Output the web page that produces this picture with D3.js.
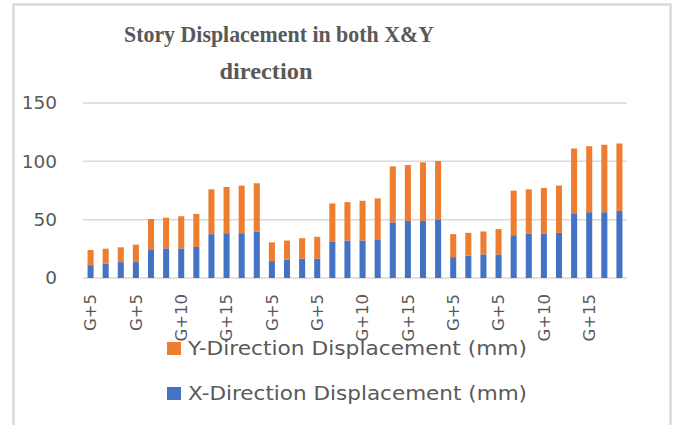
<!DOCTYPE html>
<html>
<head>
<meta charset="utf-8">
<script src="https://cdn.jsdelivr.net/npm/d3@7"></script>
<style>
  body { margin: 0; background: #fff; }
</style>
</head>
<body>
<div id="chart"></div>
<script>
// building per bar (4 bars per building, three sets)
const buildings = ["G+5", "G+10", "G+15"];
const categories = [];
for (let s = 0; s < 3; s++) buildings.forEach(b => { for (let k = 0; k < 4; k++) categories.push(b); });

const xDisp = [11.0, 12.4, 13.6, 13.6, 24.0, 25.4, 25.4, 26.6, 37.6, 38.4, 38.4, 39.6,
               14.5, 15.6, 16.5, 16.5, 30.9, 32.1, 32.1, 33.2, 47.7, 48.8, 48.8, 49.7,
               17.9, 19.1, 20.2, 20.2, 36.7, 37.9, 37.9, 38.7, 55.5, 56.4, 56.4, 57.5];
const yDisp = [13.0, 12.7, 12.7, 15.0, 26.6, 26.3, 27.5, 28.3, 38.4, 39.6, 40.8, 41.6,
               16.1, 16.5, 17.6, 18.8, 33.0, 32.9, 34.1, 35.0, 48.0, 48.0, 50.3, 50.6,
               19.7, 19.6, 19.7, 21.7, 38.2, 38.1, 39.3, 40.5, 55.5, 56.6, 57.8, 57.8];
const yTicks = [0, 50, 100, 150];
const seriesNames = ["X-Direction Displacement (mm)", "Y-Direction Displacement (mm)"];
const colors = ["#4472c4", "#ed7d31"];

const width = 675, height = 425;
const svg = d3.select("#chart").append("svg").attr("width", width).attr("height", height);

// outer frame
svg.append("path")
    .attr("d", `M13.5,${height} V4.5 H670.5 V${height}`)
    .attr("fill", "none").attr("stroke", "#d9d9d9").attr("stroke-width", 2.5);

const plotLeft = 83, plotRight = 627, plotTop = 103, plotBottom = 278;
const data = categories.map((c, i) => ({ i: i, cat: c, x: xDisp[i], y: yDisp[i] }));

const xScale = d3.scaleBand().domain(data.map(d => d.i)).range([plotLeft, plotRight]).paddingInner(0.6).paddingOuter(0.3);
const yScale = d3.scaleLinear().domain([0, 150]).range([plotBottom, plotTop]);

// gridlines
svg.append("g").selectAll("line").data(yTicks).enter().append("line")
    .attr("x1", plotLeft).attr("x2", plotRight)
    .attr("y1", d => yScale(d)).attr("y2", d => yScale(d))
    .attr("stroke", "#d9d9d9").attr("stroke-width", 1.5);

// y labels
svg.append("g").selectAll("text").data(yTicks).enter().append("text")
    .attr("x", 57).attr("y", d => yScale(d)).attr("dy", "0.35em")
    .attr("text-anchor", "end")
    .attr("font-family", "'DejaVu Sans', sans-serif").attr("font-size", 18.5)
    .attr("fill", "#595959")
    .text(d => d);

// stacked bars
const stack = d3.stack().keys(["x", "y"])(data);
svg.append("g").selectAll("g").data(stack).enter().append("g")
    .attr("fill", (d, i) => colors[i])
    .selectAll("rect").data(d => d).enter().append("rect")
    .attr("x", d => xScale(d.data.i))
    .attr("width", xScale.bandwidth())
    .attr("y", d => yScale(d[1]))
    .attr("height", d => yScale(d[0]) - yScale(d[1]));

// x tick labels, every 3rd category
svg.append("g").selectAll("text").data(data.filter(d => d.i % 3 === 0)).enter().append("text")
    .attr("transform", d => `translate(${xScale(d.i) + xScale.bandwidth() / 2},${plotBottom + 16}) rotate(-90)`)
    .attr("text-anchor", "end").attr("dy", "0.35em")
    .attr("font-family", "'DejaVu Sans', sans-serif").attr("font-size", 16.5)
    .attr("fill", "#595959")
    .text(d => d.cat);

// title
const title = svg.append("text")
    .attr("text-anchor", "middle")
    .attr("font-family", "'Liberation Serif', serif").attr("font-weight", "bold")
    .attr("font-size", 23.5).attr("fill", "#595959");
title.append("tspan").attr("x", 279).attr("y", 42)
    .attr("textLength", 310).attr("lengthAdjust", "spacingAndGlyphs")
    .text("Story Displacement in both X&Y");
title.append("tspan").attr("x", 266).attr("y", 79)
    .attr("textLength", 93).attr("lengthAdjust", "spacingAndGlyphs")
    .text("direction");

// legend (Y on top, X below)
const legendItems = [{ name: seriesNames[1], color: colors[1], y: 348 }, { name: seriesNames[0], color: colors[0], y: 393 }];
const legend = svg.append("g").selectAll("g").data(legendItems).enter().append("g");
legend.append("rect").attr("x", 167).attr("y", d => d.y - 6).attr("width", 14).attr("height", 13).attr("fill", d => d.color);
legend.append("text").attr("x", 188).attr("y", d => d.y).attr("dy", "0.35em")
    .attr("font-family", "'DejaVu Sans', sans-serif").attr("font-size", 19)
    .attr("fill", "#595959")
    .attr("textLength", 339).attr("lengthAdjust", "spacingAndGlyphs")
    .text(d => d.name);
</script>
</body>
</html>
